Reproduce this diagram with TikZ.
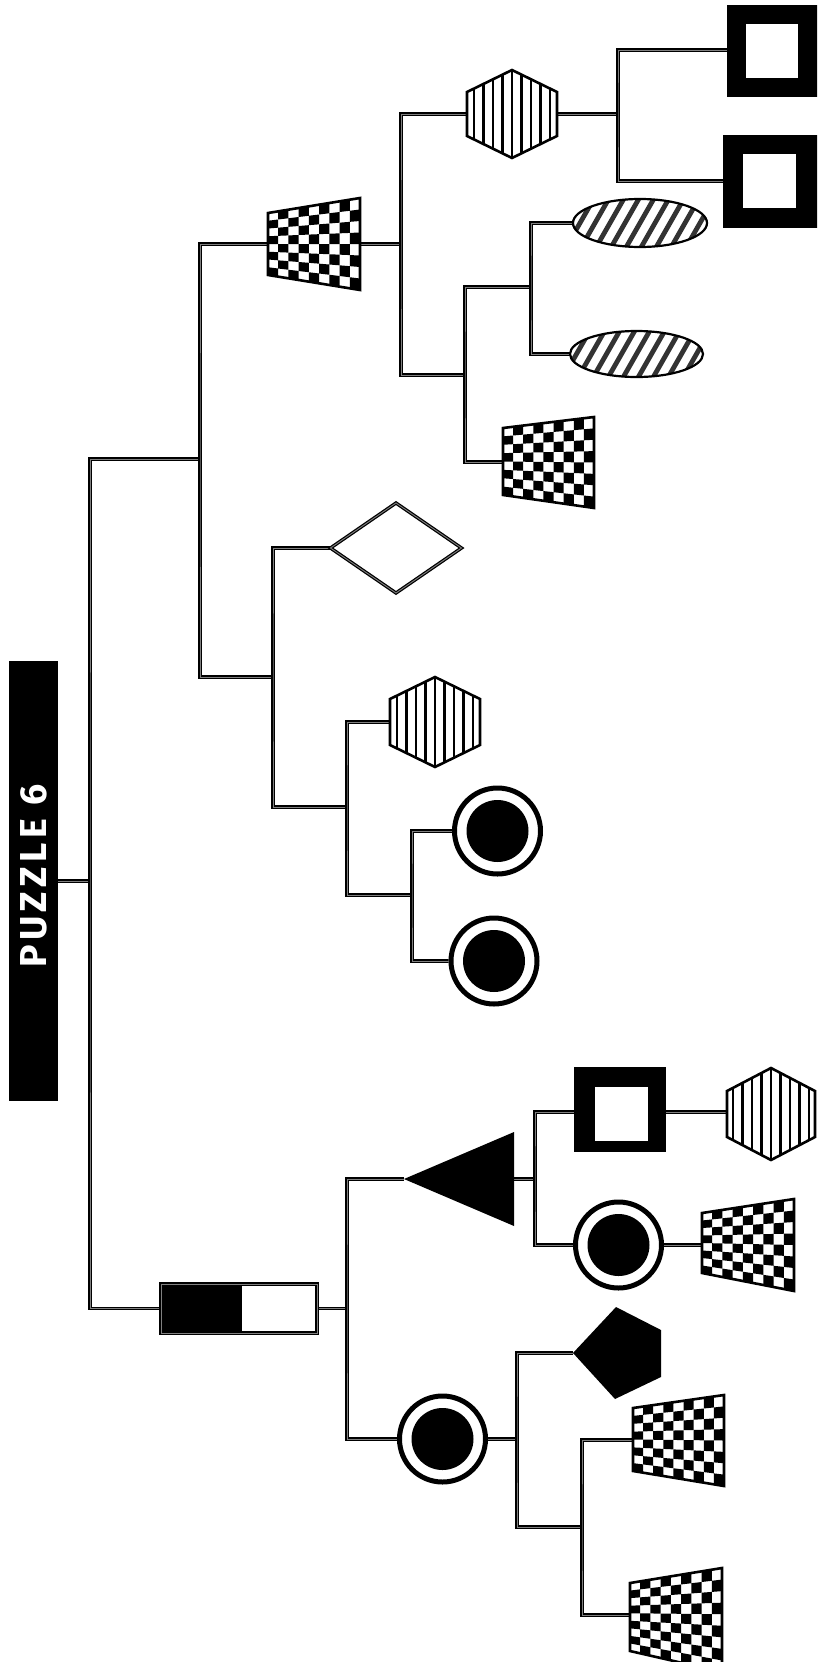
\documentclass[tikz,border=0pt]{standalone}
\usepackage{fontspec}
\newfontfamily\titlefont{Fira Sans}[LetterSpace=12]
\usetikzlibrary{calc}
\tikzset{
  slot/.style={rectangle, draw=none, inner sep=0pt, outer sep=0pt},
  conn/.style={draw=black, line width=1.25pt, double=black!50, double distance=0.9pt},
  border/.style={draw=black, line width=2.6pt, line join=miter},
  titlelabel/.style={rotate=90, text=white, inner sep=0pt, font=\titlefont\bfseries\fontsize{37.5}{37.5}\selectfont},
}
% checker trapezoid: xL yLtop yLbot xR yRtop yRbot ncols nrows
\newcommand{\ckbox}[8]{%
  \fill[white] (#1,#2) -- (#4,#5) -- (#4,#6) -- (#1,#3) -- cycle;
  \foreach \ci in {1,...,#7}{%
    \foreach \cj in {1,...,#8}{%
      \pgfmathtruncatemacro{\ckodd}{mod(\ci+\cj,2)}%
      \ifnum\ckodd=1
        \pgfmathsetmacro{\ckua}{(\ci-1)/#7}%
        \pgfmathsetmacro{\ckub}{\ci/#7}%
        \pgfmathsetmacro{\ckva}{(\cj-1)/#8}%
        \pgfmathsetmacro{\ckvb}{\cj/#8}%
        \pgfmathsetmacro{\ckxa}{#1+\ckua*(#4-#1)}%
        \pgfmathsetmacro{\ckxb}{#1+\ckub*(#4-#1)}%
        \pgfmathsetmacro{\ckta}{#2+\ckua*(#5-#2)}%
        \pgfmathsetmacro{\ckba}{#3+\ckua*(#6-#3)}%
        \pgfmathsetmacro{\cktb}{#2+\ckub*(#5-#2)}%
        \pgfmathsetmacro{\ckbb}{#3+\ckub*(#6-#3)}%
        \pgfmathsetmacro{\ckyaa}{\ckta+\ckva*(\ckba-\ckta)}%
        \pgfmathsetmacro{\ckyab}{\ckta+\ckvb*(\ckba-\ckta)}%
        \pgfmathsetmacro{\ckyba}{\cktb+\ckva*(\ckbb-\cktb)}%
        \pgfmathsetmacro{\ckybb}{\cktb+\ckvb*(\ckbb-\cktb)}%
        \fill[black] (\ckxa,\ckyaa) -- (\ckxb,\ckyba) -- (\ckxb,\ckybb) -- (\ckxa,\ckyab) -- cycle;
      \fi
    }}%
  \draw[border] (#1,#2) -- (#4,#5) -- (#4,#6) -- (#1,#3) -- cycle;
}
% striped hexagon: cx cy halfwidth halfheight halfside
\newcommand{\stripehex}[5]{%
  \begin{scope}[shift={(#1,#2)}]
    \fill[white] (0,-#4) -- (#3,-#5) -- (#3,#5) -- (0,#4) -- (-#3,#5) -- (-#3,-#5) -- cycle;
    \begin{scope}
      \clip (0,-#4) -- (#3,-#5) -- (#3,#5) -- (0,#4) -- (-#3,#5) -- (-#3,-#5) -- cycle;
      \foreach \hk in {-4,...,4} \draw[line width=2.3pt] (\hk*9.5,-#4) -- (\hk*9.5,#4);
    \end{scope}
    \draw[border] (0,-#4) -- (#3,-#5) -- (#3,#5) -- (0,#4) -- (-#3,#5) -- (-#3,-#5) -- cycle;
  \end{scope}}
% hatched ellipse: cx cy rx ry
\newcommand{\hatchell}[4]{%
  \begin{scope}[shift={(#1,#2)}]
    \fill[white] (0,0) ellipse[x radius=#3pt, y radius=#4pt];
    \begin{scope}
      \clip (0,0) ellipse[x radius=#3pt, y radius=#4pt];
      \foreach \ec in {-75,-60,...,75} \draw[line width=4.8pt, black!80] (\ec-16,28) -- (\ec+16,-28);
    \end{scope}
    \draw[line width=2.2pt] (0,0) ellipse[x radius=#3pt, y radius=#4pt];
  \end{scope}}
% ring with black dot, at a node
\newcommand{\ringdot}[1]{%
  \fill[white] (#1) circle[radius=45.5pt];
  \draw[line width=5pt] (#1) circle[radius=43pt];
  \fill (#1) circle[radius=31pt];}
% thick-bordered square: outer x1 y1 x2 y2, inner x1 y1 x2 y2
\newcommand{\thicksq}[8]{%
  \fill (#1,#2) rectangle (#3,#4);
  \fill[white] (#5,#6) rectangle (#7,#8);}

\begin{document}
\begin{tikzpicture}[x=1pt, y=-1pt]
\path[use as bounding box, fill=white] (0,0) rectangle (817,1662);
\clip (0,0) rectangle (817,1662);

% ---------- nodes (slots) ----------
\node[slot, minimum width=49pt, minimum height=440pt] (title) at (33.5,881) {};
\node[slot, minimum width=92pt, minimum height=92pt] (T1) at (314,244) {};
\node[slot, minimum width=90pt, minimum height=88pt] (H1) at (512,114) {};
\node[slot, minimum width=90pt, minimum height=92pt] (S1) at (772,50) {};
\node[slot, minimum width=94pt, minimum height=93pt] (S2) at (770,181) {};
\node[slot, minimum width=134pt, minimum height=48pt] (E1) at (640,223) {};
\node[slot, minimum width=133pt, minimum height=46pt] (E2) at (636.5,354) {};
\node[slot, minimum width=91pt, minimum height=91pt] (T2) at (548.5,462) {};
\node[slot, minimum width=131pt, minimum height=90pt] (D) at (396,548) {};
\node[slot, minimum width=90pt, minimum height=90pt] (H2) at (435,722) {};
\node[slot, minimum width=91pt, minimum height=91pt] (R1) at (497.5,831) {};
\node[slot, minimum width=91pt, minimum height=91pt] (R2) at (494,961) {};
\node[slot, minimum width=156pt, minimum height=49pt] (B) at (239,1308.5) {};
\node[slot, minimum width=110pt, minimum height=94pt] (Tri) at (459,1179) {};
\node[slot, minimum width=92pt, minimum height=86pt] (S3) at (620,1112) {};
\node[slot, minimum width=88pt, minimum height=92pt] (H3) at (771,1114) {};
\node[slot, minimum width=91pt, minimum height=88pt] (R3) at (618.5,1245) {};
\node[slot, minimum width=92pt, minimum height=92pt] (T3) at (748,1244) {};
\node[slot, minimum width=91pt, minimum height=91pt] (R4) at (442.5,1439) {};
\node[slot, minimum width=88pt, minimum height=92pt] (P) at (617,1353) {};
\node[slot, minimum width=91pt, minimum height=91pt] (T4) at (678.5,1440) {};
\node[slot, minimum width=92pt, minimum height=94pt] (T5) at (676,1615) {};

% ---------- junctions ----------
\coordinate (j1) at (90,881);
\coordinate (jA) at (200,459);
\coordinate (jT1) at (401,244);
\coordinate (jH1) at (618,114);
\coordinate (jT1b) at (465,375);
\coordinate (jE) at (531,287);
\coordinate (jL3) at (273,677);
\coordinate (jL4) at (347,807);
\coordinate (jL5) at (412,895);
\coordinate (jB) at (347,1308.5);
\coordinate (jTri) at (535,1179);
\coordinate (jR4) at (517,1439);
\coordinate (jP) at (582,1527);

% ---------- connectors ----------
\draw[conn] (title.east) -- (j1);
\draw[conn] (jA) -| (j1) |- (B.west);
\draw[conn] (T1.west) -| (jA) |- (jL3);
\draw[conn] (T1.east) -- (jT1);
\draw[conn] (H1.west) -| (jT1) |- (jT1b);
\draw[conn] (H1.east) -- (jH1);
\draw[conn] (S1.west) -| (jH1) |- (S2.west);
\draw[conn] (jE) -| (jT1b) |- (T2.west);
\draw[conn] (E1.west) -| (jE) |- (E2.west);
\draw[conn] (D.west) -| (jL3) |- (jL4);
\draw[conn] (H2.west) -| (jL4) |- (jL5);
\draw[conn] (R1.west) -| (jL5) |- (R2.west);
\draw[conn] (B.east) -- (jB);
\draw[conn] (Tri.west) -| (jB) |- (R4.west);
\draw[conn] (Tri.east) -- (jTri);
\draw[conn] (S3.west) -| (jTri) |- (R3.west);
\draw[conn] (S3.east) -- (S3.east -| H3.west);
\draw[conn] (R3.east) -- (R3.east -| T3.west);
\draw[conn] (R4.east) -- (jR4);
\draw[conn] (P.west) -| (jR4) |- (jP);
\draw[conn] (T4.west) -| (jP) |- (T5.west);

% ---------- title ----------
\fill (title.south west) rectangle (title.north east);
\node[titlelabel] (titletext) at (34,876) {PUZZLE 6};

% ---------- shapes ----------
\ckbox{268}{213}{275}{360}{198}{290}{9}{8}
\stripehex{512}{114}{45}{44}{22}
\thicksq{727}{5}{820}{97}{746}{24}{798}{78}
\thicksq{723}{135}{820}{228}{743}{154}{796}{208}
\hatchell{640}{223}{67}{24}
\hatchell{636.5}{354}{66.5}{23}
\ckbox{503}{428}{495}{594}{417}{508}{9}{8}
\draw[conn, fill=white] (D.west) -- (D.north) -- (D.east) -- (D.south) -- cycle;
\stripehex{435}{722}{45}{45}{23}
\ringdot{R1}
\ringdot{R2}

\fill[white] (B.south west) rectangle (B.north east);
\fill (161,1284) rectangle (242,1333);
\draw[conn] (B.south west) rectangle (B.north east);
\fill (Tri.west) -- (Tri.north east) -- (Tri.south east) -- cycle;
\thicksq{574}{1067}{666}{1152}{595}{1087}{648}{1141}
\stripehex{771}{1114}{44}{46}{23}
\ringdot{R3}
\ckbox{702}{1213}{1273}{794}{1199}{1291}{9}{8}
\ringdot{R4}
\fill (P.west) -- (616,1307) -- (661,1330) -- (661,1377) -- (615,1399) -- cycle;
\ckbox{633}{1408}{1471}{724}{1395}{1486}{9}{8}
\ckbox{630}{1583}{1651}{722}{1568}{1672}{9}{9}
\end{tikzpicture}
\end{document}
